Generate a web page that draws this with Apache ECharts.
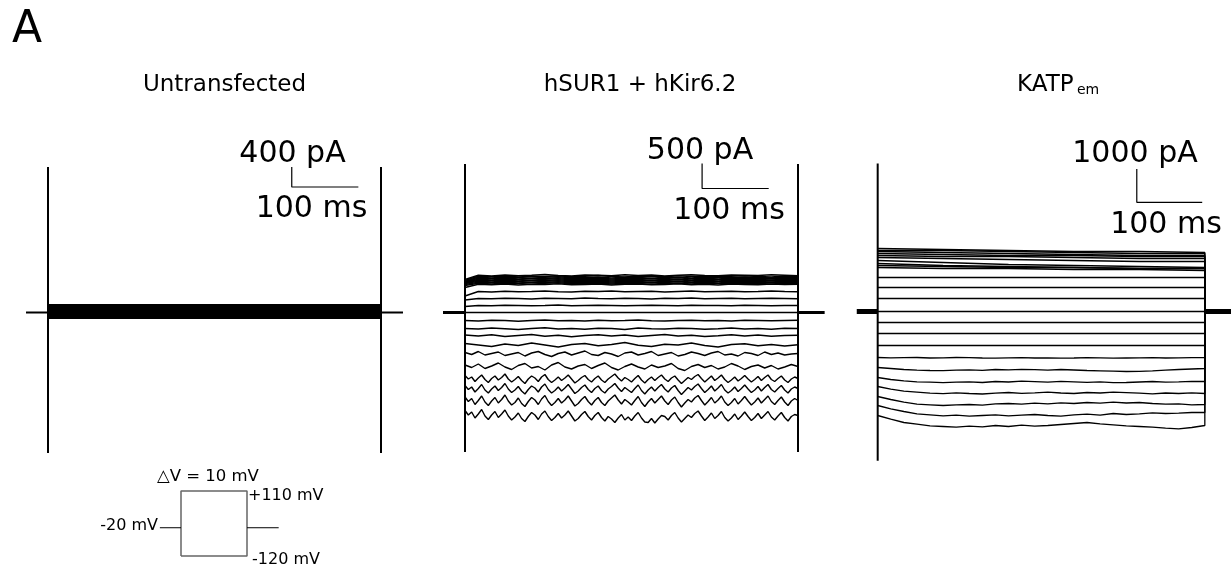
<!DOCTYPE html>
<html><head><meta charset="utf-8">
<script src="https://cdn.jsdelivr.net/npm/echarts@6.0.0/dist/echarts.min.js"></script>
<style>html,body{margin:0;padding:0;background:#fff}#c{width:1231px;height:569px}</style>
</head><body><div id="c"></div>
<script>
// ---------- sample times (ms) ----------
const tStep = [0, 500];
const t100 = [0,100,200,300,400,500];
const t20 = [0,20,40,60,80,100,120,140,160,180,200,220,240,260,280,300,320,340,360,380,400,420,440,460,480,500];
const t10 = [0,10,20,30,40,50,60,70,80,90,100,110,120,130,140,150,160,170,180,190,200,210,220,230,240,250,260,270,280,290,300,310,320,330,340,350,360,370,380,390,400,410,420,430,440,450,460,470,480,490,500];
const t5 = [0,5,10,15,20,25,30,35,40,45,50,55,60,65,70,75,80,85,90,95,
  100,105,110,115,120,125,130,135,140,145,150,155,160,165,170,175,180,185,190,195,
  200,205,210,215,220,225,230,235,240,245,250,255,260,265,270,275,280,285,290,295,
  300,305,310,315,320,325,330,335,340,345,350,355,360,365,370,375,380,385,390,395,
  400,405,410,415,420,425,430,435,440,445,450,455,460,465,470,475,480,485,490,495,500];

// ---------- titles / labels ----------
const panelTitles = ['Untransfected', 'hSUR1 + hKir6.2', 'KATP'];
const katpSub = 'em';
const scaleCurrent = [400, 500, 1000];   // pA
const scaleTime = 100;                    // ms
const protocolLabels = ['\u25B3V = 10 mV', '+110 mV', '-20 mV', '-120 mV'];

// ---------- voltage protocol (mV) ----------
const holdV = -20;
const stepVmin = -120;
const stepVmax = 110;
const stepDur = 500;

// ---------- Panel 1: untransfected (pA) ----------
const untransLevels = [156,144,132,120,108,96,84,72,60,48,36,24,12,0,-12,-24,-36,-48,-60,-72,-84,-96,-108,-116];
const untransTransient = [2910, -2810];

// ---------- Panel 2: hSUR1 + hKir6.2 (pA) ----------
const kc1 = [660,745,730,750,735,745,760,740,730,750, 745,735,755,740,750,730,745,755,740,735, 750,745,740,755,745,735];
const kc2 = [640,725,715,730,710,725,720,735,715,725, 740,720,710,730,725,715,735,720,730,715, 725,735,720,710,730,720];
const kc3 = [620,705,690,710,700,685,705,715,695,700, 710,690,705,700,715,695,705,690,710,700, 695,710,700,690,705,700];
const kc4 = [610,685,675,690,670,685,680,695,675,680, 690,670,685,690,675,680,695,675,685,670, 690,680,675,690,680,685];
const kc5 = [600,665,650,670,660,645,665,675,655,660, 670,650,665,660,675,655,665,650,670,660, 655,670,660,650,665,660];
const kc6 = [590,645,635,650,630,645,640,655,635,640, 650,630,645,650,635,640,655,635,645,630, 650,640,635,650,640,645];
const kc7 = [580,625,610,630,620,605,625,635,615,620, 630,610,625,620,635,615,625,610,630,620, 615,630,620,610,625,620];
const kc8 = [560,605,595,610,590,605,600,615,595,600, 610,590,605,610,595,600,615,595,605,590, 610,600,595,610,600,605];
const kc9 = [540,585,570,590,580,565,585,595,575,580, 590,570,585,580,595,575,585,570,590,580, 575,590,580,570,585,580];
const kc10 = [500,565,555,570,550,565,560,575,555,560, 570,550,565,570,555,560,575,555,565,550, 570,560,555,570,560,565];
const ka21 = [330,420,410,425,415,420,430,415,410,425, 420,430,415,420,425,410,420,430,415,420, 425,415,420,430,420,415];
const ka14 = [250,280,275,285,280,270,285,280,275,290, 280,275,285,280,270,285,280,290,275,280, 285,275,280,285,280,275];
const ka7 = [120,140,135,145,140,135,140,150,135,140, 145,140,135,140,145,140,135,145,140,140, 135,145,140,135,140,140];
const kzero = [0, 0];
const kb1 = [-160,-170,-155,-160,-175,-160,-150,-165,-160,-170, -155,-165,-160,-150,-165,-170,-160,-155,-165,-160, -170,-155,-160,-165,-160,-155];
const kb2 = [-320,-330,-310,-325,-340,-320,-305,-330,-320,-335, -315,-320,-340,-310,-325,-330,-315,-320,-335,-325, -310,-330,-320,-335,-315,-320];
const kb3 = [-450,-470,-445,-480,-460,-440,-475,-455,-485,-460, -445,-470,-450,-480,-460,-440,-470,-455,-480,-465, -445,-470,-450,-475,-460,-455];
const kb4 = [-620,-650,-680,-630,-660,-610,-650,-690,-640,-620, -665,-640,-600,-655,-680,-635,-650,-610,-660,-690, -640,-625,-665,-640,-670,-645];
const kb5 = [-800,-840,-780,-850,-820,-790,-860,-830,-800,-870, -810,-780,-840,-880,-820,-790,-850,-810,-770,-840, -860,-800,-830,-880,-810,-790,-850,-820,-780,-860, -830,-800,-870,-840,-790,-820,-860,-810,-780,-850, -830,-870,-800,-820,-860,-790,-840,-810,-850,-830, -820];
const kb6 = [-1050,-1100,-1030,-1120,-1070,-1010,-1090,-1140,-1060,-1020, -1110,-1080,-1150,-1050,-1000,-1090,-1130,-1070,-1040,-1120, -1060,-1010,-1100,-1150,-1080,-1030,-1090,-1130,-1050,-1100, -1070,-1020,-1120,-1160,-1080,-1040,-1100,-1060,-1130,-1090, -1020,-1070,-1140,-1080,-1050,-1110,-1060,-1130,-1090,-1040, -1080];
const kb7 = [-1260,-1330,-1290,-1380,-1310,-1250,-1340,-1400,-1320,-1270,
  -1350,-1300,-1230,-1330,-1390,-1340,-1280,-1360,-1420,-1330,
  -1270,-1310,-1380,-1290,-1240,-1340,-1400,-1350,-1290,-1360,
  -1310,-1250,-1330,-1410,-1360,-1300,-1260,-1340,-1390,-1320,
  -1270,-1350,-1400,-1330,-1280,-1230,-1310,-1370,-1300,-1340,
  -1390,-1320,-1260,-1350,-1410,-1340,-1290,-1360,-1300,-1250,
  -1330,-1380,-1310,-1270,-1350,-1420,-1360,-1300,-1340,-1280,
  -1240,-1320,-1390,-1330,-1270,-1360,-1310,-1250,-1340,-1400,
  -1350,-1290,-1370,-1320,-1260,-1330,-1390,-1340,-1280,-1360,
  -1300,-1250,-1340,-1380,-1320,-1270,-1350,-1400,-1330,-1290,
  -1320];
const kb8 = [-1460,-1540,-1490,-1590,-1520,-1440,-1550,-1610,-1530,-1470,
  -1560,-1500,-1420,-1530,-1600,-1550,-1480,-1570,-1630,-1540,
  -1470,-1510,-1590,-1490,-1430,-1540,-1610,-1560,-1490,-1570,
  -1510,-1440,-1530,-1620,-1570,-1500,-1450,-1540,-1600,-1520,
  -1470,-1560,-1610,-1530,-1480,-1420,-1510,-1580,-1500,-1550,
  -1600,-1520,-1450,-1560,-1630,-1550,-1490,-1570,-1500,-1440,
  -1530,-1590,-1510,-1460,-1560,-1640,-1570,-1500,-1550,-1480,
  -1430,-1520,-1600,-1540,-1470,-1570,-1510,-1440,-1550,-1610,
  -1560,-1490,-1580,-1520,-1450,-1530,-1600,-1550,-1480,-1570,
  -1500,-1440,-1540,-1590,-1520,-1460,-1550,-1610,-1530,-1490,
  -1520];
const kb9 = [-1690,-1780,-1720,-1840,-1760,-1670,-1790,-1860,-1770,-1700,
  -1810,-1740,-1650,-1770,-1850,-1800,-1710,-1820,-1880,-1780,
  -1700,-1750,-1840,-1730,-1660,-1780,-1860,-1800,-1720,-1810,
  -1750,-1670,-1770,-1870,-1820,-1740,-1680,-1780,-1850,-1760,
  -1700,-1800,-1860,-1770,-1710,-1650,-1750,-1830,-1740,-1790,
  -1850,-1760,-1680,-1800,-1880,-1790,-1720,-1810,-1740,-1670,
  -1770,-1840,-1750,-1690,-1800,-1890,-1810,-1740,-1790,-1710,
  -1660,-1760,-1850,-1780,-1700,-1810,-1750,-1670,-1790,-1860,
  -1800,-1720,-1830,-1760,-1680,-1770,-1850,-1790,-1710,-1810,
  -1740,-1670,-1780,-1840,-1760,-1690,-1790,-1860,-1770,-1720,
  -1760];
const kb10 = [-1960,-2050,-1990,-2110,-2030,-1940,-2070,-2140,-2050,-1980,
  -2100,-2030,-1950,-2070,-2150,-2090,-2010,-2120,-2180,-2080,
  -2000,-2050,-2140,-2030,-1970,-2080,-2160,-2100,-2020,-2110,
  -2050,-1970,-2070,-2170,-2120,-2040,-1980,-2080,-2150,-2060,
  -2000,-2100,-2170,-2080,-2130,-2200,-2110,-2040,-2150,-2090,
  -2160,-2070,-2000,-2110,-2190,-2200,-2120,-2210,-2130,-2060,
  -2080,-2150,-2060,-2000,-2110,-2190,-2120,-2050,-2100,-2020,
  -1970,-2070,-2160,-2090,-2010,-2120,-2060,-1980,-2100,-2170,
  -2110,-2030,-2140,-2070,-1990,-2080,-2160,-2100,-2020,-2120,
  -2050,-1980,-2090,-2150,-2070,-2000,-2100,-2170,-2080,-2040,
  -2060];
const kirTransient = [2970, -2790];

// ---------- Panel 3: KATPem (pA) ----------
const ec1 = [1890,1860,1830,1800,1800,1770];
const ec2 = [1830,1830,1800,1770,1740,1740];
const ec3 = [1800,1770,1740,1710,1680,1680];
const ec4 = [1740,1710,1680,1680,1650,1650];
const ec5 = [1680,1650,1650,1620,1590,1590];
const ec6 = [1620,1590,1560,1530,1500,1500];
const ec7 = [1530,1470,1410,1380,1350,1320];
const ec8 = [1440,1380,1350,1320,1290,1290];
const ec9 = [1380,1350,1320,1320,1290,1290];
const ec10 = [1320,1290,1290,1260,1260,1230];
const ea34 = [1020, 1020];
const ea24 = [720, 720];
const ea13 = [390, 390];
const ezero = [0, 0];
const ed1 = [-330, -330];
const ed2 = [-660, -660];
const ed3 = [-1020, -1020];
const ed4 = [-1380,-1390,-1385,-1380,-1395,-1390,-1380,-1385,-1395,-1400, -1390,-1385,-1395,-1390,-1400,-1395,-1385,-1390,-1400,-1395, -1390,-1385,-1395,-1390,-1385,-1380];
const ed5 = [-1680,-1710,-1740,-1760,-1770,-1775,-1760,-1750,-1765,-1740, -1750,-1735,-1745,-1760,-1740,-1755,-1770,-1780,-1790,-1800, -1795,-1780,-1760,-1740,-1725,-1710];
const ed6 = [-1980,-2040,-2080,-2110,-2120,-2135,-2120,-2110,-2130,-2100, -2115,-2090,-2105,-2120,-2095,-2110,-2125,-2110,-2135,-2130, -2115,-2100,-2120,-2110,-2095,-2100];
const ed7 = [-2250,-2330,-2390,-2420,-2450,-2465,-2440,-2460,-2475,-2450, -2430,-2455,-2440,-2420,-2445,-2460,-2430,-2445,-2420,-2435, -2450,-2470,-2445,-2460,-2440,-2460];
const ed8 = [-2550,-2640,-2720,-2780,-2800,-2820,-2800,-2790,-2810,-2770, -2760,-2780,-2750,-2770,-2740,-2760,-2730,-2750,-2720,-2745, -2730,-2760,-2780,-2770,-2800,-2790];
const ed9 = [-2820,-2920,-3000,-3070,-3100,-3130,-3110,-3140,-3120,-3100, -3130,-3110,-3090,-3120,-3140,-3100,-3080,-3110,-3060,-3090, -3070,-3040,-3060,-3050,-3030,-3030];
const ed10 = [-3120,-3230,-3330,-3380,-3430,-3450,-3470,-3440,-3460,-3420, -3450,-3410,-3440,-3420,-3390,-3360,-3330,-3370,-3400,-3430, -3450,-3470,-3500,-3520,-3480,-3420];
const emTransient = [4440, -4480];

// ---------- assemble ----------
const untransTraces = untransLevels.map(v => [tStep, [v, v]]);
const kirTraces = [[t20,kc1],[t20,kc2],[t20,kc3],[t20,kc4],[t20,kc5],[t20,kc6],[t20,kc7],[t20,kc8],[t20,kc9],[t20,kc10],
  [t20,ka21],[t20,ka14],[t20,ka7],[tStep,kzero],[t20,kb1],[t20,kb2],[t20,kb3],[t20,kb4],
  [t10,kb5],[t10,kb6],[t5,kb7],[t5,kb8],[t5,kb9],[t5,kb10]];
const emTraces = [[t100,ec1],[t100,ec2],[t100,ec3],[t100,ec4],[t100,ec5],[t100,ec6],[t100,ec7],[t100,ec8],[t100,ec9],[t100,ec10],
  [tStep,ea34],[tStep,ea24],[tStep,ea13],[tStep,ezero],[tStep,ed1],[tStep,ed2],[tStep,ed3],
  [t20,ed4],[t20,ed5],[t20,ed6],[t20,ed7],[t20,ed8],[t20,ed9],[t20,ed10]];

function ln(gi, data, width, color) {
  return {type:'line', xAxisIndex:gi, yAxisIndex:gi, data:data, symbol:'none', showSymbol:false,
    lineStyle:{color:color || '#000', width:width}, silent:true, animation:false, clip:false};
}
const series = [];
// panel 1
untransTraces.forEach(([t, v]) => series.push(ln(0, t.map((x, i) => [x, v[i]]), 1.5)));
series.push(ln(0, [[-33, 0], [0, 0]], 2));
series.push(ln(0, [[stepDur, 0], [stepDur + 33, 0]], 2));
series.push(ln(0, [[0, untransTransient[0]], [0, untransTransient[1]]], 2));
series.push(ln(0, [[stepDur, untransTransient[0]], [stepDur, untransTransient[1]]], 2));
series.push(ln(0, [[366, 2910], [366, 2910 - scaleCurrent[0]], [366 + scaleTime, 2910 - scaleCurrent[0]]], 1.2));
// panel 2
kirTraces.forEach(([t, v]) => series.push(ln(1, t.map((x, i) => [x, v[i]]), 1.4)));
series.push(ln(1, [[-33, 0], [0, 0]], 3));
series.push(ln(1, [[stepDur, 0], [stepDur + 40, 0]], 3));
series.push(ln(1, [[0, kirTransient[0]], [0, kirTransient[1]]], 2));
series.push(ln(1, [[stepDur, kirTransient[0]], [stepDur, kirTransient[1]]], 2));
series.push(ln(1, [[356, 2980], [356, 2980 - scaleCurrent[1]], [356 + scaleTime, 2980 - scaleCurrent[1]]], 1.2));
// panel 3
emTraces.forEach(([t, v]) => series.push(ln(2, t.map((x, i) => [x, v[i]]).concat([[stepDur, 0]]), 1.3)));
series.push(ln(2, [[-32, 0], [0, 0]], 5));
series.push(ln(2, [[stepDur, 0], [stepDur + 40, 0]], 5));
series.push(ln(2, [[0, emTransient[0]], [0, emTransient[1]]], 2));
series.push(ln(2, [[396, 4275], [396, 4275 - scaleCurrent[2]], [396 + scaleTime, 4275 - scaleCurrent[2]]], 1.2));
// protocol
series.push(ln(3, [[0, stepVmin], [0, stepVmax], [stepDur, stepVmax], [stepDur, stepVmin], [0, stepVmin]], 1.5, '#666'));
series.push(ln(3, [[-160, holdV], [0, holdV]], 1));
series.push(ln(3, [[stepDur, holdV], [stepDur + 240, holdV]], 1));

const F = 'DejaVu Sans';
function txt(text, x, y, size, align) {
  return {type:'text', silent:true, style:{text:text, x:x, y:y, font:size + 'px "' + F + '"', fill:'#000',
    textAlign:align || 'center', align:align || 'center', textVerticalAlign:'middle', verticalAlign:'middle'}};
}
const graphic = [
  txt('A', 12, 31, 44, 'left'),
  txt(panelTitles[0], 224.5, 85, 23),
  txt(panelTitles[1], 640, 85, 23),
  txt(panelTitles[2], 1017, 85, 23, 'left'),
  txt(katpSub, 1077, 90, 14, 'left'),
  txt(scaleCurrent[0] + ' pA', 292.5, 154, 30),
  txt(scaleTime + ' ms', 311.5, 209, 30),
  txt(scaleCurrent[1] + ' pA', 700, 151.5, 30),
  txt(scaleTime + ' ms', 729, 211, 30),
  txt(scaleCurrent[2] + ' pA', 1135, 154.5, 30),
  txt(scaleTime + ' ms', 1166, 225, 30),
  txt(protocolLabels[0], 157, 477, 16.5, 'left'),
  txt(protocolLabels[1], 248, 496, 16, 'left'),
  txt(protocolLabels[2], 158, 526, 16, 'right'),
  txt(protocolLabels[3], 252, 559.5, 16, 'left')
];

const grids = [
  {left:21.36, top:150, width:399.6, height:320},
  {left:438.36, top:150, width:399.6, height:320},
  {left:851.52, top:150, width:383.96, height:320},
  {left:154.6, top:479.7, width:132, height:87.6}
];
const xr = [[-40, 560], [-40, 560], [-40, 540], [-200, 800]];
const yr = [[-3150, 3250], [-3150, 3250], [-4755, 4845], [-160, 150]];
const option = {
  backgroundColor:'#fff',
  animation:false,
  grid: grids,
  xAxis: xr.map((r, i) => ({type:'value', gridIndex:i, min:r[0], max:r[1], show:false})),
  yAxis: yr.map((r, i) => ({type:'value', gridIndex:i, min:r[0], max:r[1], show:false})),
  series: series,
  graphic: graphic
};
const chart = echarts.init(document.getElementById('c'), null, {renderer:'canvas'});
chart.setOption(option);
</script></body></html>
